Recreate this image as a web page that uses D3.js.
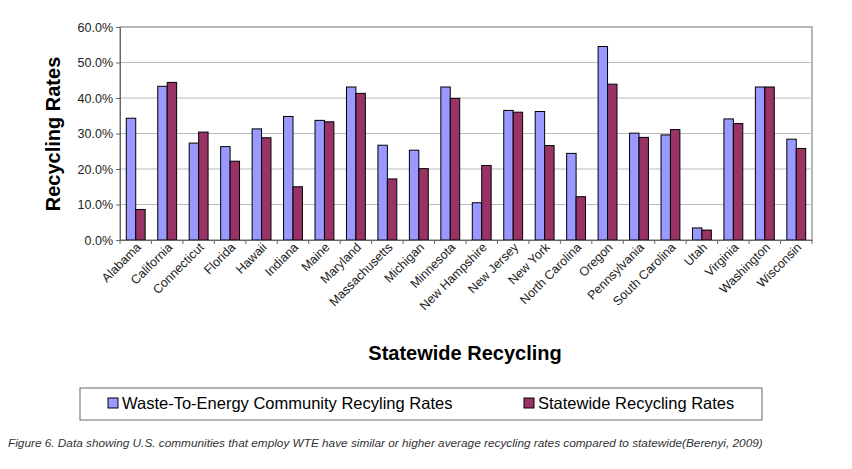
<!DOCTYPE html>
<html>
<head>
<meta charset="UTF-8">
<style>
  body { margin: 0; background: #fff; }
  text { font-family: "Liberation Sans", Arial, sans-serif; }
</style>
</head>
<body>
<svg></svg>
<script src="https://d3js.org/d3.v7.min.js"></script>
<script>
const states = ["Alabama","California","Connecticut","Florida","Hawaii","Indiana","Maine","Maryland","Massachusetts","Michigan","Minnesota","New Hampshire","New Jersey","New York","North Carolina","Oregon","Pennsylvania","South Carolina","Utah","Virginia","Washington","Wisconsin"];
const wteRates = [34.3,43.3,27.3,26.3,31.3,34.8,33.7,43.1,26.7,25.3,43.1,10.5,36.5,36.2,24.4,54.5,30.1,29.6,3.4,34.1,43.1,28.4];
const stateRates = [8.6,44.4,30.4,22.2,28.8,15.0,33.3,41.3,17.2,20.1,39.9,21.0,36.0,26.6,12.2,43.9,28.9,31.1,2.8,32.8,43.1,25.8];
const yTicks = [0,10,20,30,40,50,60];
const seriesNames = ["Waste-To-Energy Community Recyling Rates","Statewide Recycling Rates"];
const colors = ["#9999ff","#993366"];

const width = 852, height = 469;
const svg = d3.select("svg").attr("width", width).attr("height", height);
const m = {left: 120, right: 40, top: 27, bottom: 229};

const x = d3.scaleBand().domain(states).range([m.left, width - m.right]).paddingInner(0.4).paddingOuter(0.2);
const xb = d3.scaleBand().domain(states).range([m.left, width - m.right]);
const y = d3.scaleLinear().domain([0, 60]).range([240, m.top]);

// plot frame + grid
svg.append("rect").attr("x", m.left).attr("y", m.top)
  .attr("width", width - m.right - m.left).attr("height", 240 - m.top)
  .attr("fill", "#fff").attr("stroke", "#888").attr("stroke-width", 1.2);
svg.append("g").selectAll("line").data(yTicks.slice(1, -1)).join("line")
  .attr("x1", m.left).attr("x2", width - m.right)
  .attr("y1", d => y(d)).attr("y2", d => y(d))
  .attr("stroke", "#bbb");

const yAxis = svg.append("g").attr("transform", `translate(${m.left},0)`)
  .call(d3.axisLeft(y).tickValues(yTicks).tickFormat(d => d.toFixed(1) + "%").tickSize(4));
yAxis.select(".domain").attr("stroke", "#666");
yAxis.selectAll("line").attr("stroke", "#666");
yAxis.selectAll("text").attr("font-size", 12.5).attr("fill", "#222");

const bw = x.bandwidth() / 2;
const g = svg.append("g");
[wteRates, stateRates].forEach((vals, i) => {
  g.selectAll(null).data(states).join("rect")
    .attr("x", d => x(d) + i * bw)
    .attr("y", (d, j) => y(vals[j]))
    .attr("width", bw)
    .attr("height", (d, j) => y(0) - y(vals[j]))
    .attr("fill", colors[i]).attr("stroke", "#000").attr("stroke-width", 1);
});

const xAxis = svg.append("g").attr("transform", "translate(0,240)")
  .call(d3.axisBottom(xb).tickSize(0).tickFormat(""));
xAxis.select(".domain").attr("stroke", "#666");
svg.append("g").selectAll("line").data(states.concat(["end"])).join("line")
  .attr("x1", (d, i) => m.left + i * xb.step()).attr("x2", (d, i) => m.left + i * xb.step())
  .attr("y1", 240).attr("y2", 244).attr("stroke", "#666");
svg.append("g").selectAll("text").data(states).join("text")
  .attr("transform", d => `translate(${xb(d) + xb.bandwidth() / 2 + 6},248) rotate(-45)`)
  .attr("text-anchor", "end").attr("font-size", 12.5).attr("fill", "#222").text(d => d);

svg.append("text").attr("transform", "translate(60,134) rotate(-90)")
  .attr("text-anchor", "middle").attr("font-size", 20).attr("font-weight", "bold").text("Recycling Rates");
svg.append("text").attr("x", 465).attr("y", 360).attr("text-anchor", "middle")
  .attr("font-size", 20).attr("font-weight", "bold").text("Statewide Recycling");

// legend
svg.append("rect").attr("x", 80).attr("y", 388).attr("width", 682).attr("height", 32)
  .attr("fill", "#fff").attr("stroke", "#666");
const lx = [108, 524];
seriesNames.forEach((n, i) => {
  svg.append("rect").attr("x", lx[i]).attr("y", 398).attr("width", 10).attr("height", 10)
    .attr("fill", colors[i]).attr("stroke", "#000");
  svg.append("text").attr("x", lx[i] + 14).attr("y", 409).attr("font-size", 16.5).text(n);
});

svg.append("text").attr("x", 8).attr("y", 447).attr("font-size", 11.8).attr("font-style", "italic")
  .attr("fill", "#333")
  .text("Figure 6. Data showing U.S. communities that employ WTE have similar or higher average recycling rates compared to statewide(Berenyi, 2009)");
</script>
</body>
</html>
